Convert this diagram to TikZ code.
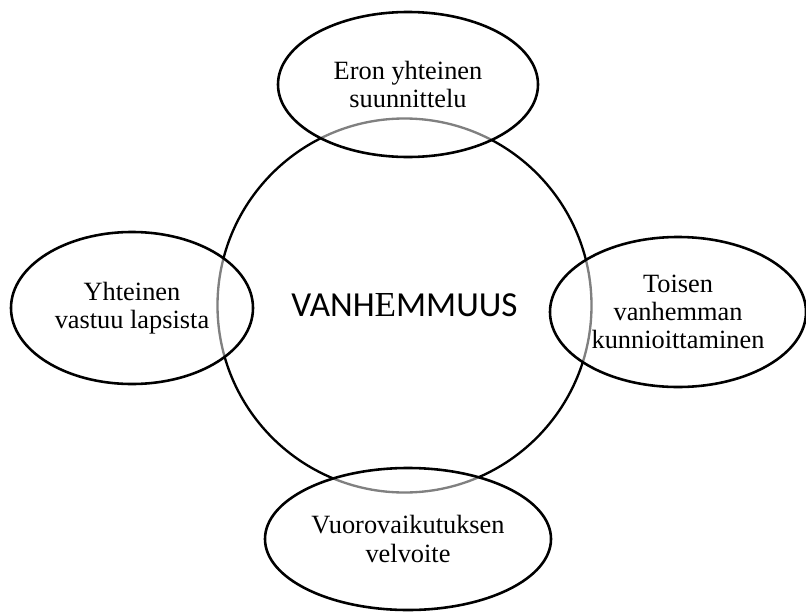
\documentclass[tikz,border=0pt]{standalone}
\usepackage{fontspec}
\setmainfont{Liberation Serif}
\newfontfamily\calibrifont{Carlito}
\newfontfamily\timesfont{Liberation Serif}
\usetikzlibrary{shapes.geometric}
\tikzset{
  topic/.style={ellipse, draw, line width=2.2pt, fill=white, fill opacity=0.5, text opacity=1,
    inner sep=0pt, align=center, font=\fontsize{22.5}{24}\selectfont},
  whole/.style={circle, draw, line width=2pt, minimum size=11.22cm, inner sep=0pt,
    font=\calibrifont\fontsize{30}{36}\selectfont}
}

\begin{document}
\begin{tikzpicture}[x=0.03cm, y=-0.03cm]
  \useasboundingbox (0,0) rectangle (806,613);
  % ------------------------------------------------------------ centre circle
  \node[whole] (parent) at (404.5,305.5) {VANH{\timesfont E}MMUUS};
  % ------------------------------------------------------------ four themes round it
  \node[topic, minimum width=7.8cm, minimum height=4.35cm] (plan) at (408,84.5) {Eron yhteinen\\suunnittelu};
  \node[topic, minimum width=7.26cm, minimum height=4.56cm] (care) at (132,308) {Yhteinen\\vastuu lapsista};
  \node[topic, minimum width=7.68cm, minimum height=4.5cm] (respect) at (678,312) {Toisen\\vanhemman\\kunnioittaminen};
  \node[topic, minimum width=8.58cm, minimum height=4.26cm] (talk) at (408,539) {Vuorovaikutuksen\\velvoite};
\end{tikzpicture}
\end{document}
